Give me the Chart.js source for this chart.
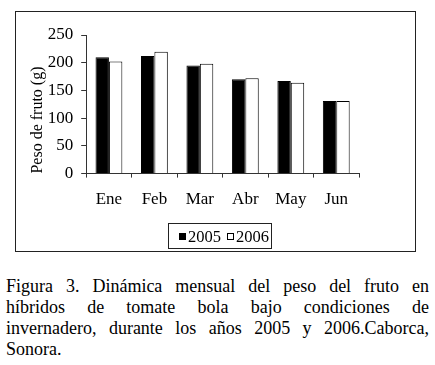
<!DOCTYPE html>
<html>
<head>
<meta charset="utf-8">
<script src="https://cdn.jsdelivr.net/npm/chart.js@4/dist/chart.umd.min.js"></script>
<style>
  body { margin: 0; background: #fff; width: 435px; height: 365px; overflow: hidden; position: relative; }
  #js-chart-peso { position: absolute; left: 0; top: 0; }
  .caption { position: absolute; left: 6px; top: 275.5px; width: 423px; font-family: "Liberation Serif", serif; font-size: 18px; line-height: 21px; color: #000; }
  .caption div { text-align: justify; text-align-last: justify; white-space: nowrap; }
  .caption div.last { text-align-last: left; }
</style>
</head>
<body>
<canvas id="js-chart-peso" width="435" height="260"></canvas>
<div class="caption">
  <div>Figura 3. Dinámica mensual del peso del fruto en</div>
  <div>híbridos de tomate bola bajo condiciones de</div>
  <div>invernadero, durante los años 2005 y 2006.Caborca,</div>
  <div class="last">Sonora.</div>
</div>
<script>
// Chart data
const months = ['Ene', 'Feb', 'Mar', 'Abr', 'May', 'Jun'];
const peso2005 = [210, 212, 195, 170, 167, 131];
const peso2006 = [202, 220, 198, 172, 164, 131];
const yTicks = [0, 50, 100, 150, 200, 250];

const serifFont = '"Liberation Serif", serif';

// Global config
Chart.defaults.font.family = serifFont;
Chart.defaults.color = '#000';
Chart.defaults.animation = false;

// Outer frame around the figure
const framePlugin = {
  id: 'frame',
  afterDraw(chart) {
    const ctx = chart.ctx;
    ctx.save();
    ctx.strokeStyle = '#222';
    ctx.lineWidth = 1;
    ctx.strokeRect(15.5, 11.5, 400, 240);
    ctx.restore();
  }
};

// Boxed legend under the x axis
const boxLegendPlugin = {
  id: 'boxLegend',
  afterDraw(chart) {
    const ctx = chart.ctx;
    const sets = chart.data.datasets;
    ctx.save();
    ctx.font = '16.5px ' + serifFont;
    ctx.textBaseline = 'middle';
    // swatch 7 + gap 2 + text
    let widths = sets.map(d => 9 + ctx.measureText(d.label).width);
    let gap = 6;
    let total = widths.reduce((a, b) => a + b, 0) + gap * (sets.length - 1);
    let boxW = Math.round(total + 13), boxH = 25;
    let left = Math.round(219 - boxW / 2), top = Math.round(chart.chartArea.bottom + 49);
    ctx.strokeStyle = '#222';
    ctx.lineWidth = 1;
    ctx.strokeRect(left + .5, top + .5, boxW, boxH);
    let x = left + 11, cy = top + boxH / 2 + 1;
    sets.forEach((d, i) => {
      let sx = Math.round(x), sy = Math.round(cy - 4);
      ctx.fillStyle = d.backgroundColor;
      ctx.fillRect(sx, sy, 7, 7);
      ctx.strokeStyle = '#000';
      ctx.strokeRect(sx + .5, sy + .5, 6, 6);
      ctx.fillStyle = '#000';
      ctx.fillText(d.label, x + 9, cy + 1);
      x += widths[i] + gap;
    });
    ctx.restore();
  }
};

let chartPesoCon = document.getElementById('js-chart-peso');

let chartPesoData = {
  labels: months,
  datasets: [
    {
      label: '2005',
      data: peso2005,
      backgroundColor: '#000',
      borderColor: '#000',
      borderWidth: 1
    },
    {
      label: '2006',
      data: peso2006,
      backgroundColor: '#fff',
      borderColor: '#000',
      borderWidth: 1
    }
  ]
};

let chartPesoOptions = {
  responsive: false,
  layout: {
    padding: {left: 23.5, right: 76, top: 35, bottom: 38}
  },
  datasets: {
    bar: {
      categoryPercentage: 0.59,
      barPercentage: 1
    }
  },
  scales: {
    x: {
      grid: {display: true, drawOnChartArea: false, drawTicks: true, tickLength: 4, color: '#333'},
      border: {display: true, color: '#333', width: 1},
      ticks: {font: {size: 17}, padding: 12, color: '#000'}
    },
    y: {
      min: 0,
      max: 250,
      afterBuildTicks: function (axis) {
        axis.ticks = yTicks.map(v => ({value: v}));
      },
      grid: {display: true, drawOnChartArea: false, drawTicks: true, tickLength: 5, color: '#333'},
      border: {display: true, color: '#333', width: 1},
      ticks: {font: {size: 17}, padding: 8, color: '#000'},
      title: {
        display: true,
        text: 'Peso de fruto (g)',
        align: 'start',
        font: {size: 16},
        padding: {top: 4.5, bottom: -7.5},
        color: '#000'
      }
    }
  },
  plugins: {
    legend: {display: false},
    tooltip: {enabled: false}
  }
};

let chartPeso = new Chart(chartPesoCon, {
  type: 'bar',
  data: chartPesoData,
  options: chartPesoOptions,
  plugins: [framePlugin, boxLegendPlugin]
});
</script>
</body>
</html>
